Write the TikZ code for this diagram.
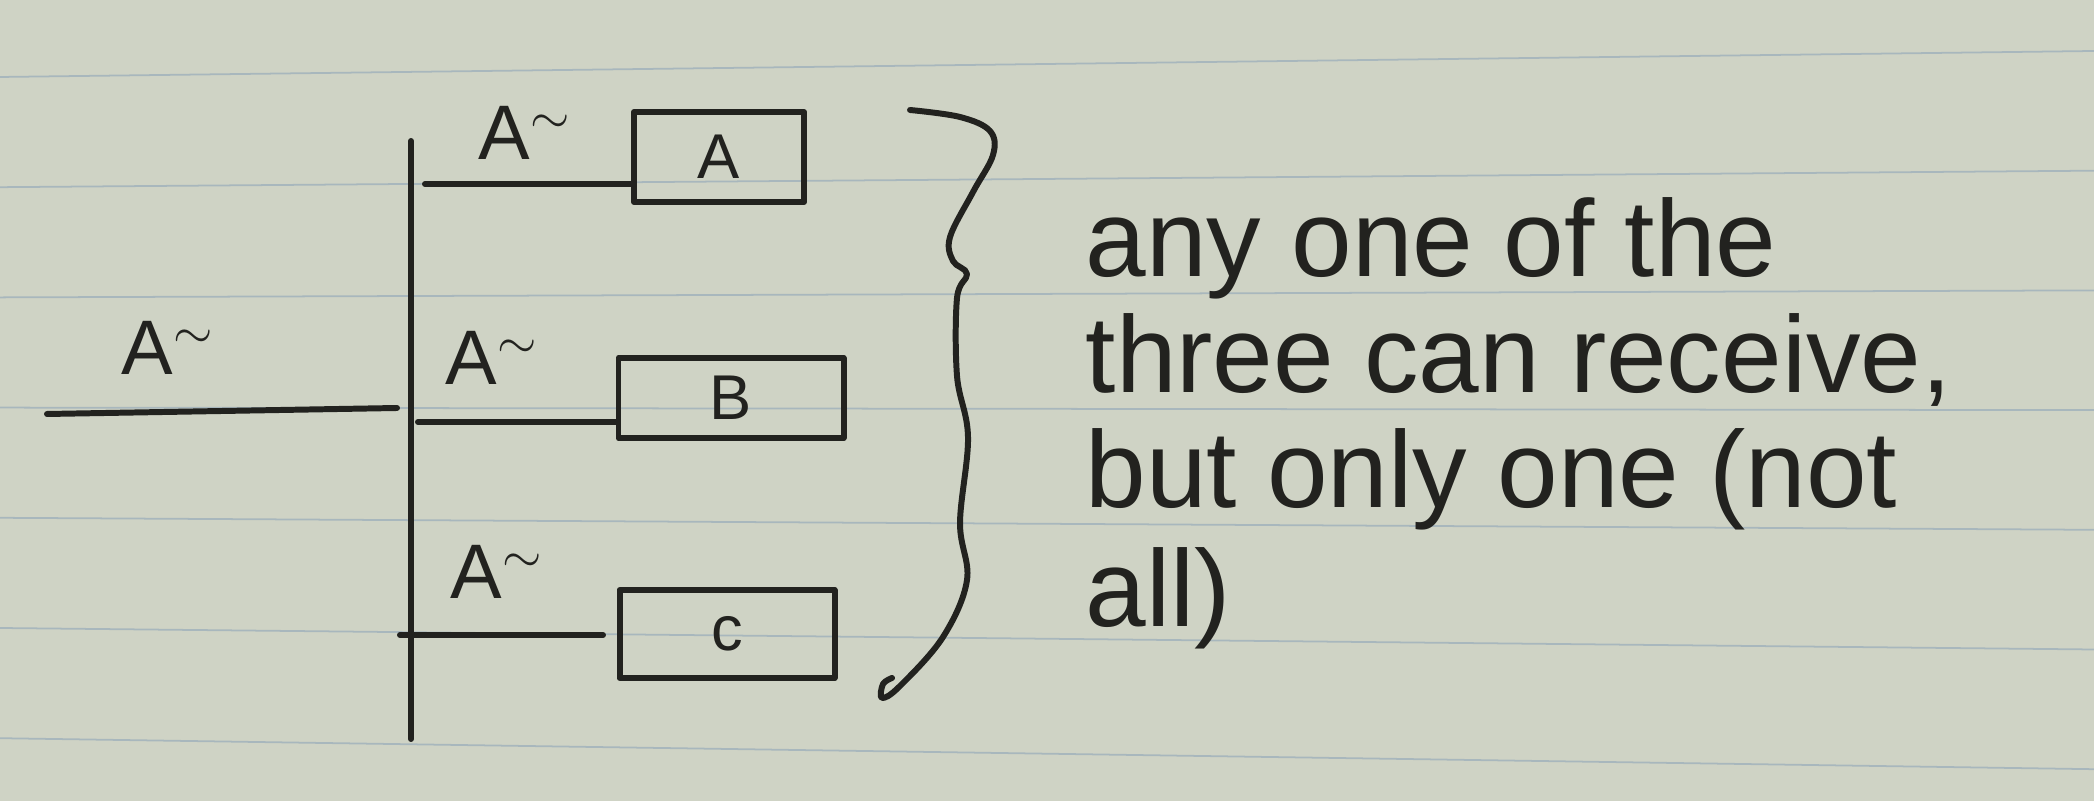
\documentclass[tikz,border=0pt]{standalone}
\usepackage{fontspec}
\setmainfont{Liberation Sans}
\usetikzlibrary{positioning}
\definecolor{paper}{RGB}{207,211,197}
\definecolor{ruling}{RGB}{168,183,189}
\definecolor{ink}{RGB}{34,34,31}

\begin{document}
\begin{tikzpicture}[line cap=round,line join=round,
  pen/.style={draw=ink,line width=1.7pt},
  receiver/.style={pen,rectangle,inner sep=0pt,text=ink,font=\fontsize{18}{20}\selectfont},
  tag/.style={inner sep=0pt,text=ink,font=\fontsize{22}{24}\selectfont},
  note/.style={inner sep=0pt,anchor=base west,text=ink,font=\fontsize{31}{33}\selectfont}]
% the sheet of paper
\fill[paper] (0,0) rectangle (20.94,-8.01);
\useasboundingbox (0,0) rectangle (20.94,-8.01);
\foreach \i in {0,...,6}
\draw[ruling,line width=0.5pt] (0,{-0.77-1.102*\i}) -- (20.94,{-0.51-1.197*\i});

% the three receivers
\node[receiver,minimum width=1.70cm,minimum height=0.90cm] (boxA) at (7.19,-1.57) {A};
\node[receiver,minimum width=2.25cm,minimum height=0.80cm] (boxB) at (7.31,-3.98) {B};
\node[receiver,minimum width=2.15cm,minimum height=0.88cm] (boxC) at (7.27,-6.34) {c};

% the shared line
\coordinate (bustop) at (4.11,-1.41);
\coordinate (busbot) at (4.11,-7.39);
\draw[pen] (bustop) -- (busbot);

% what comes in from the left
\coordinate (src) at (0.47,-4.14);
\coordinate (jin) at (3.97,-4.08);
\draw[pen] (src) -- (jin);
\node[tag] (tagin) at (1.68,-3.48) {A$^{\sim}$};

% one branch for each receiver
\coordinate (jA) at (4.25,-1.84);
\coordinate (jB) at (4.18,-4.22);
\coordinate (jC) at (4.00,-6.35);
\coordinate (endC) at (6.03,-6.35);
\draw[pen] (jA) -- (jA -| boxA.west);
\draw[pen] (jB) -- (jB -| boxB.west);
\draw[pen] (jC) -- (endC);
\node[tag] (tagA) at (5.25,-1.33) {A$^{\sim}$};
\node[tag] (tagB) at (4.92,-3.58) {A$^{\sim}$};
\node[tag] (tagC) at (4.97,-5.72) {A$^{\sim}$};

% the brace round all three
\draw[pen] plot[smooth,tension=0.6] coordinates {
(9.10,-1.10) (9.60,-1.17) (9.90,-1.31) (9.93,-1.55) (9.73,-1.92)
(9.50,-2.37) (9.53,-2.61) (9.67,-2.74) (9.57,-2.98) (9.57,-3.76)
(9.68,-4.37) (9.60,-5.23) (9.67,-5.80) (9.43,-6.37) (9.00,-6.86)
(8.82,-6.98) (8.83,-6.84) (8.92,-6.78)};

% the note
\foreach \y/\txt [count=\n] in {
2.77/any one of the,
3.93/{three can receive,},
5.08/{but only one (not},
6.27/all)}
\node[note] (note\n) at (10.85,-\y) {\txt};
\end{tikzpicture}
\end{document}
